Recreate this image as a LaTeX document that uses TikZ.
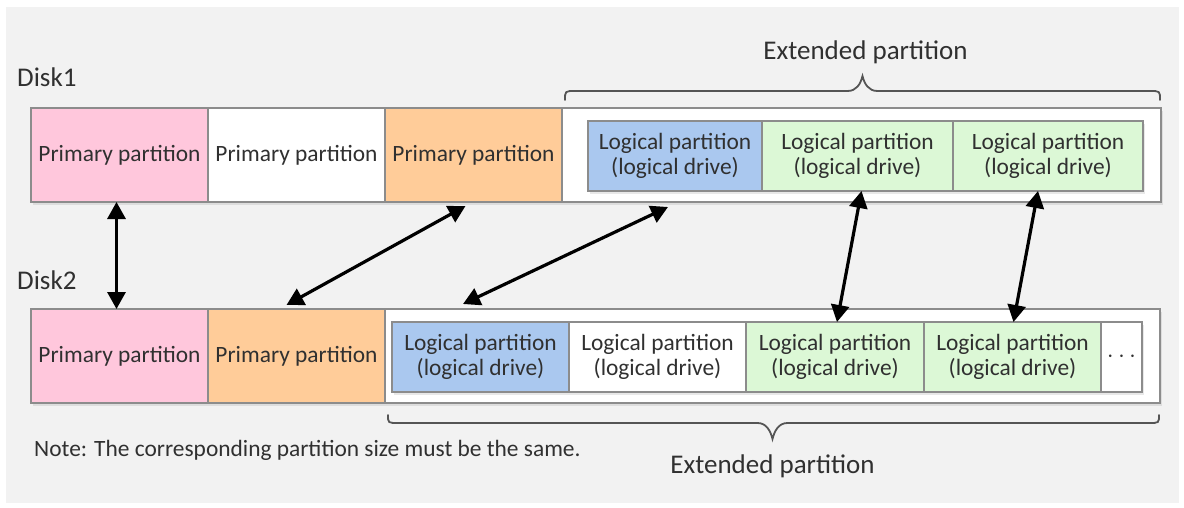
\documentclass[tikz,border=0pt]{standalone}
\usepackage{fontspec}
\setmainfont{Carlito}
\usetikzlibrary{arrows.meta, positioning, calc, shadows}

\definecolor{panelgray}{HTML}{F2F2F2}
\definecolor{linegray}{HTML}{8C8C8C}
\definecolor{bracegray}{HTML}{555555}
\definecolor{textgray}{HTML}{303030}
\definecolor{pinkfill}{HTML}{FFC7DC}
\definecolor{orangefill}{HTML}{FFCC99}
\definecolor{bluefill}{HTML}{AAC8EF}
\definecolor{greenfill}{HTML}{DCF8D6}

\newcommand{\boxfont}{\fontsize{23.4}{24.5}\selectfont}
\newcommand{\lblfont}{\fontsize{27}{30}\selectfont}

\begin{document}
\begin{tikzpicture}[
  x=1pt, y=-1pt,
  part/.style={draw=linegray, line width=1.2pt, fill=white, outer sep=0pt, inner sep=0pt,
    minimum width=177pt, minimum height=94pt, font=\boxfont, text=textgray,
    drop shadow={opacity=0.18, shadow xshift=2pt, shadow yshift=-3pt}},
  logic/.style={part, minimum height=70pt, align=center},
  lbl/.style={inner sep=0pt, font=\lblfont, text=textgray},
  arr/.style={{Triangle[length=17pt, width=18pt]}-{Triangle[length=17pt, width=18pt]}, line width=3.2pt},
  brc/.style={draw=bracegray, line width=1.8pt, line cap=round}
]
\useasboundingbox (0,0) rectangle (1184,508);
\fill[white] (0,0) rectangle (1184,508);
\fill[panelgray] (6,7) rectangle (1179,503);

% Disk1
\node[lbl, anchor=base west] (disk1) at (17,87) {Disk1};
\node[part, fill=pinkfill, anchor=north west] (p11) at (31,108) {Primary partition};
\node[part, right=0pt of p11] (p12) {Primary partition};
\node[part, fill=orangefill, right=0pt of p12] (p13) {Primary partition};
\node[part, minimum width=599pt, right=0pt of p13] (ext1) {};
\node[logic, fill=bluefill, minimum width=174pt, anchor=west] (l11) at ($(ext1.west)+(26,1)$) {Logical partition\\(logical drive)};
\node[logic, fill=greenfill, minimum width=191pt, right=0pt of l11] (l12) {Logical partition\\(logical drive)};
\node[logic, fill=greenfill, minimum width=190pt, right=0pt of l12] (l13) {Logical partition\\(logical drive)};

% Disk2
\node[lbl, anchor=base west] (disk2) at (17,289) {Disk2};
\node[part, fill=pinkfill, anchor=north west] (p21) at (31,309) {Primary partition};
\node[part, fill=orangefill, right=0pt of p21] (p22) {Primary partition};
\node[part, minimum width=775pt, right=0pt of p22] (ext2) {};
\node[logic, fill=bluefill, anchor=west] (l21) at ($(ext2.west)+(7,1)$) {Logical partition\\(logical drive)};
\node[logic, right=0pt of l21] (l22) {Logical partition\\(logical drive)};
\node[logic, fill=greenfill, minimum width=178pt, right=0pt of l22] (l23) {Logical partition\\(logical drive)};
\node[logic, fill=greenfill, right=0pt of l23] (l24) {Logical partition\\(logical drive)};
\node[logic, minimum width=41pt, right=0pt of l24] (l25) {$\cdots$};

% braces
\coordinate (t1) at ($(ext1.north)+(1,-32)$);
\draw[brc] ($(ext1.north west)+(3,-8)$) .. controls +(0,-9) .. ++(10,-9)
  -- ($(t1)+(-15,15)$) .. controls +(9,0) and +(-2,8) .. (t1)
  .. controls +(2,8) and +(-9,0) .. ($(t1)+(15,15)$)
  -- ($(ext1.north east)+(-11,-17)$) .. controls +(10,0) .. ++(10,9);
\node[lbl, anchor=base] (ext1lbl) at ($(t1)+(3,-16)$) {Extended partition};

\coordinate (t2) at ($(ext2.south)+(0,36)$);
\draw[brc] ($(ext2.south west)+(3,12)$) .. controls +(0,8) .. ++(10,8)
  -- ($(t2)+(-15,-16)$) .. controls +(9,0) and +(-2,-8) .. (t2)
  .. controls +(2,-8) and +(-9,0) .. ($(t2)+(15,-16)$)
  -- ($(ext2.south east)+(-11,20)$) .. controls +(10,0) .. ++(10,-8);
\node[lbl, anchor=base] (ext2lbl) at ($(t2)+(0,34)$) {Extended partition};

\node[inner sep=0pt, font=\boxfont, text=textgray, anchor=base west] (note) at (34,456) {Note: The corresponding partition size must be the same.};

% matching partitions
\draw[arr] ($(p11.south)+(-3,0)$) -- ($(p21.north)+(-3,0)$);
\draw[arr] ($(p22.north)+(-10,-4)$) -- ($(p13.south)+(-8,4)$);
\draw[arr] ($(ext2.north west)+(78,-5)$) -- ($(ext1.south west)+(106,5)$);
\draw[arr] ($(l12.south)+(4,0)$) -- ($(l23.north)+(2,0)$);
\draw[arr] ($(l13.south)+(-10,0)$) -- ($(l24.north)+(1,0)$);
\end{tikzpicture}
\end{document}
